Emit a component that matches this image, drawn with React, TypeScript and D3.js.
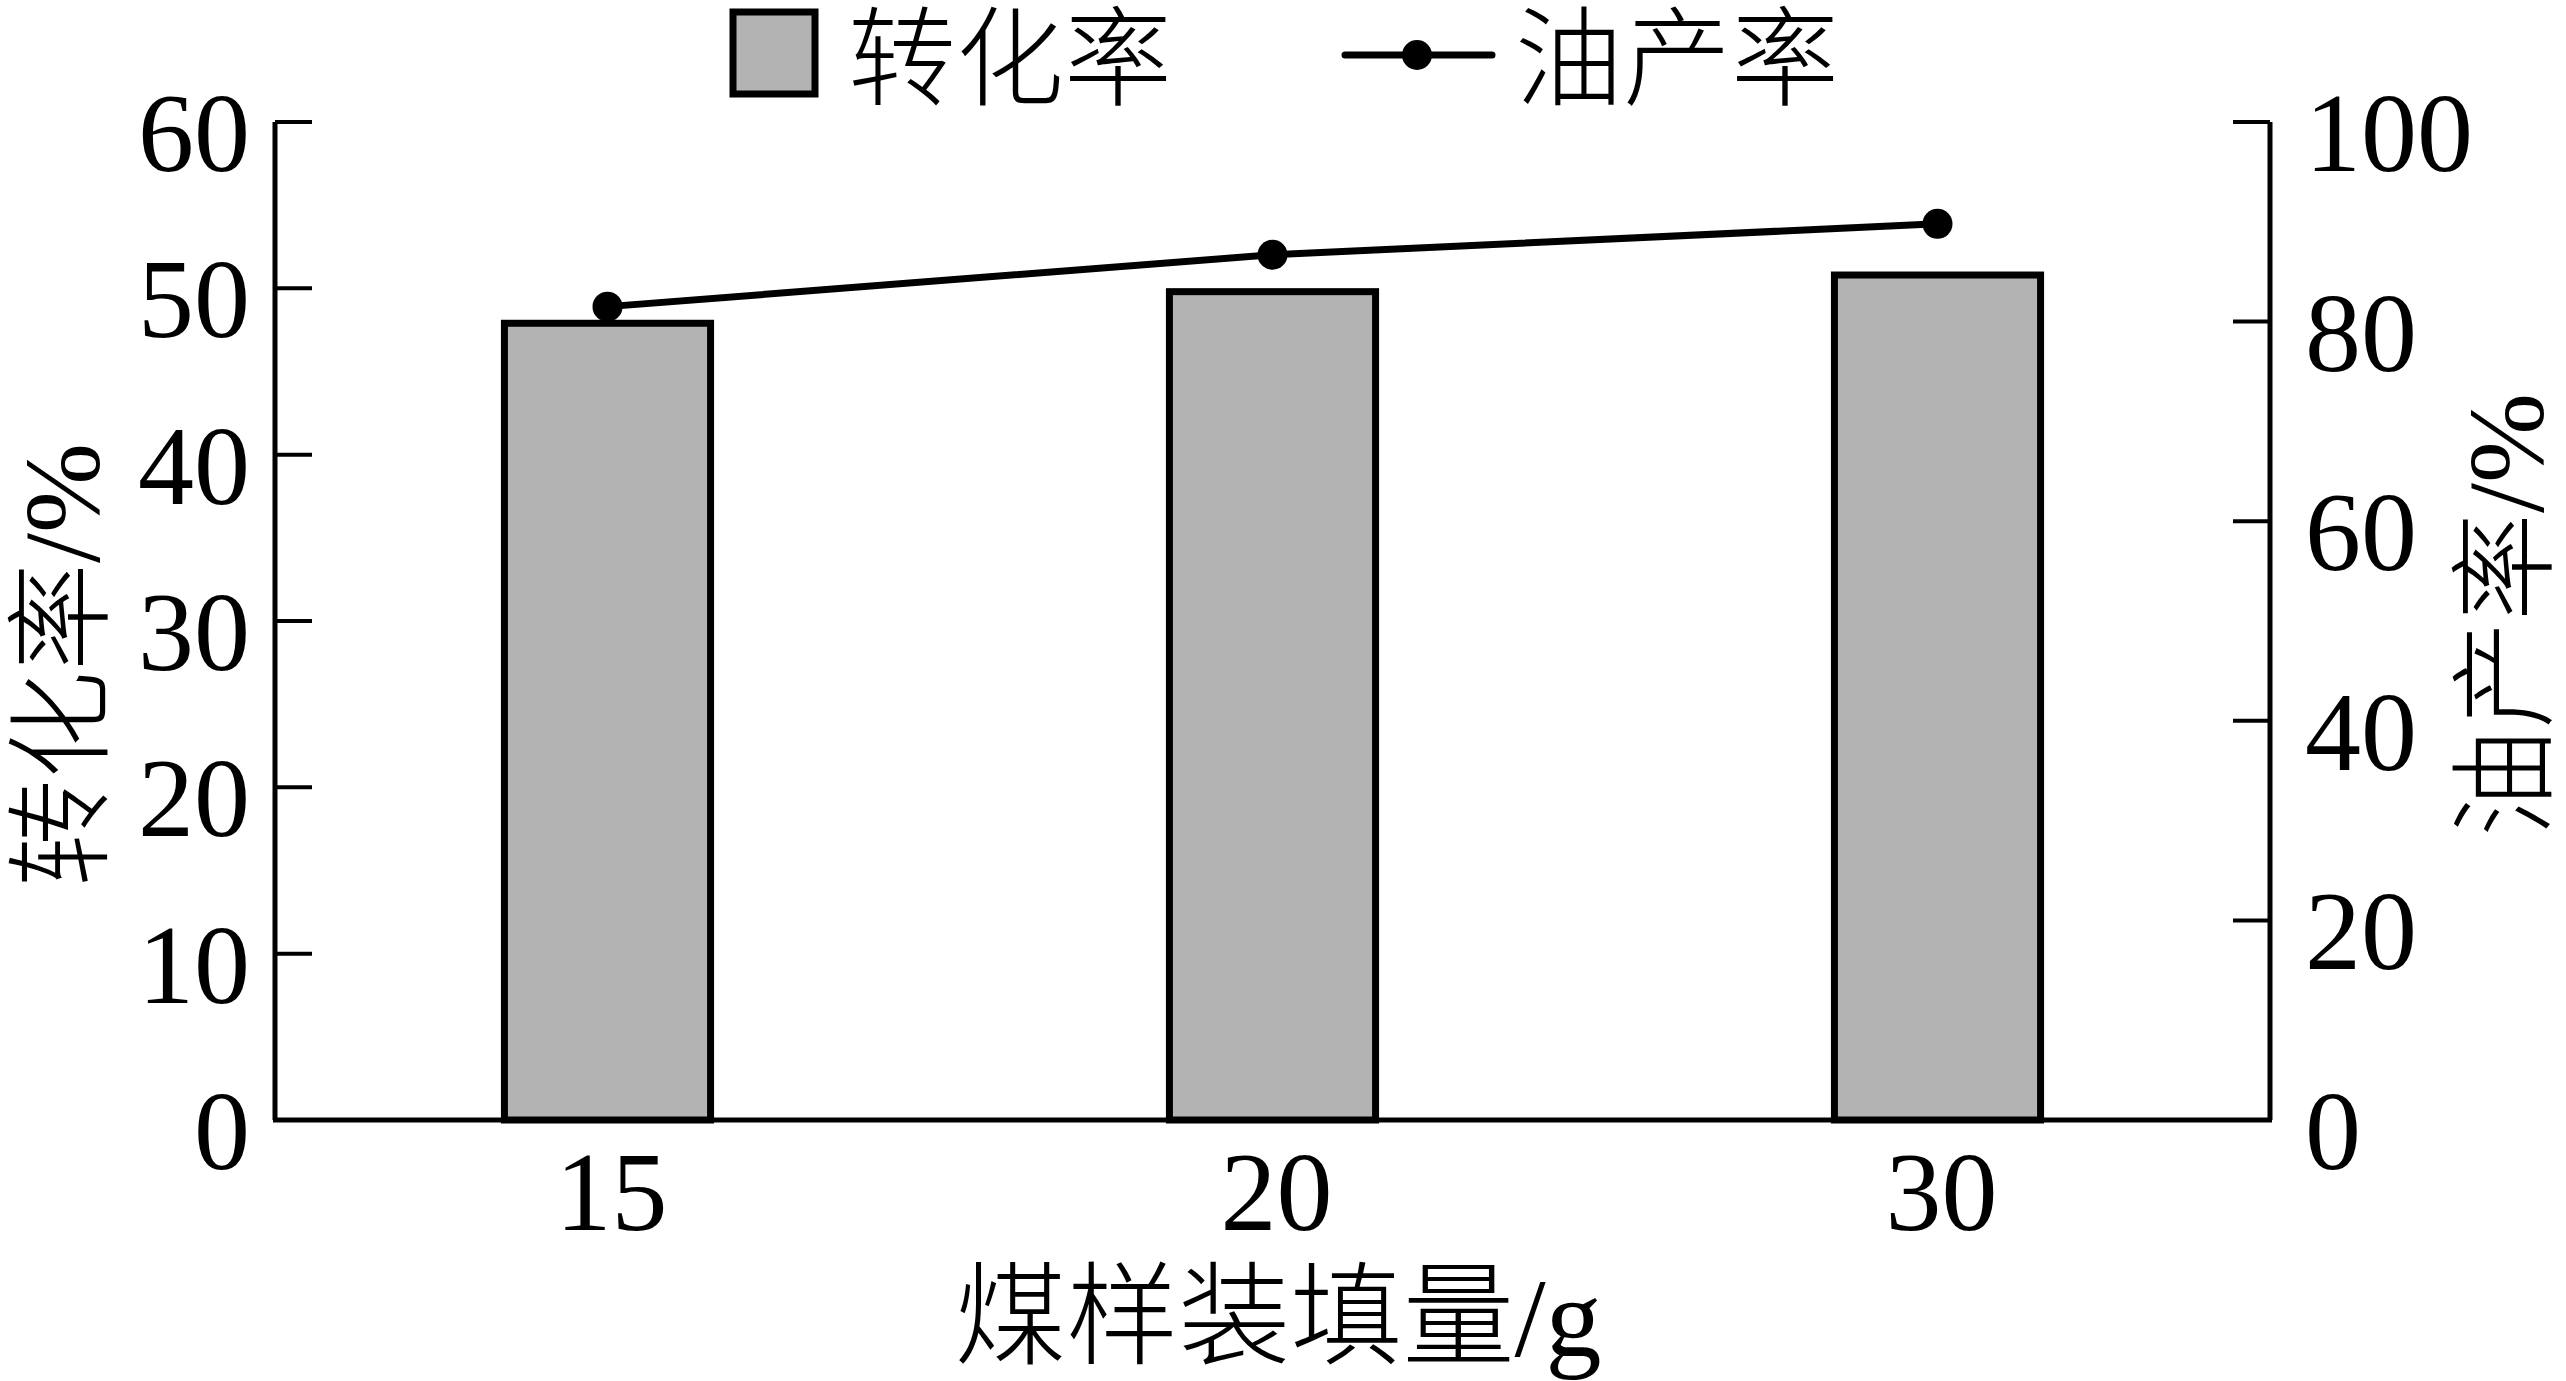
import React from "react";
import * as d3 from "d3";

const categories = ["15", "20", "30"];
const conversion = [47.9, 49.8, 50.8];
const oilYield = [81.5, 86.7, 89.8];
const leftTicks = [0, 10, 20, 30, 40, 50, 60];
const rightTicks = [0, 20, 40, 60, 80, 100];

const W = 2566;
const H = 1381;
const FONT = "'Liberation Serif', 'Times New Roman', 'Noto Sans CJK SC', serif";
const FS = 112;
const FS_T = 108;

export default function App() {
  const x0 = 275;
  const x1 = 2270;
  const yTop = 122;
  const yBot = 1120;

  const xBand = d3.scaleBand<string>().domain(categories).range([x0, x1]).paddingInner(0.69).paddingOuter(0.345);
  const yL = d3.scaleLinear().domain([0, 60]).range([yBot, yTop]);
  const yR = d3.scaleLinear().domain([0, 100]).range([yBot, yTop]);
  const cx = (c: string) => (xBand(c) as number) + xBand.bandwidth() / 2;

  const line = d3
    .line<number>()
    .x((_, i) => cx(categories[i]))
    .y((d) => yR(d));

  const tickLen = 37;

  return (
    <svg
      width={W}
      height={H}
      style={{ position: "absolute", left: 0, top: 0, background: "#fff" }}
      fontFamily={FONT}
    >
      <rect x={0} y={0} width={W} height={H} fill="#fff" />
      {/* bars */}
      {categories.map((c, i) => (
        <rect
          key={c}
          x={xBand(c)}
          y={yL(conversion[i])}
          width={xBand.bandwidth()}
          height={yBot - yL(conversion[i])}
          fill="#b3b3b3"
          stroke="#000"
          strokeWidth={7}
        />
      ))}
      {/* axes */}
      <line x1={x0} y1={yTop} x2={x0} y2={yBot} stroke="#000" strokeWidth={5} />
      <line x1={x1} y1={yTop} x2={x1} y2={yBot} stroke="#000" strokeWidth={5} />
      <line x1={x0 - 2} y1={yBot} x2={x1 + 2} y2={yBot} stroke="#000" strokeWidth={5} />
      {leftTicks.map((t) => (
        <g key={"l" + t}>
          <line x1={x0} x2={x0 + tickLen} y1={yL(t)} y2={yL(t)} stroke="#000" strokeWidth={4} />
          <text x={250} y={yL(t) + 49} textAnchor="end" fontSize={FS} fill="#000">
            {t}
          </text>
        </g>
      ))}
      {rightTicks.map((t) => (
        <g key={"r" + t}>
          <line x1={x1 - tickLen} x2={x1} y1={yR(t)} y2={yR(t)} stroke="#000" strokeWidth={4} />
          <text x={2305} y={yR(t) + 49} textAnchor="start" fontSize={FS} fill="#000">
            {t}
          </text>
        </g>
      ))}
      {/* x tick labels */}
      {categories.map((c) => (
        <text key={"x" + c} x={cx(c) + 4} y={1230} textAnchor="middle" fontSize={FS} fill="#000">
          {c}
        </text>
      ))}
      {/* line series */}
      <path d={line(oilYield) || ""} fill="none" stroke="#000" strokeWidth={7} />
      {oilYield.map((v, i) => (
        <circle key={"p" + i} cx={cx(categories[i])} cy={yR(v)} r={15} fill="#000" />
      ))}
      {/* axis titles */}
      <text x={1278} y={1318} textAnchor="middle" dominantBaseline="central" fontSize={FS} fontWeight={300} fill="#000">
        煤样装填量/g
      </text>
      <text
        transform="translate(62,665) rotate(-90)"
        textAnchor="middle"
        dominantBaseline="central"
        fontSize={FS_T}
        fontWeight={300}
        fill="#000"
      >
        转化率/%
      </text>
      <text
        transform="translate(2506,615) rotate(-90)"
        textAnchor="middle"
        dominantBaseline="central"
        fontSize={FS_T}
        fontWeight={300}
        fill="#000"
      >
        油产率/%
      </text>
      {/* legend */}
      <rect x={733} y={12} width={82} height={82} fill="#b3b3b3" stroke="#000" strokeWidth={7} />
      <text x={848} y={60} dominantBaseline="central" fontSize={FS_T} fontWeight={300} fill="#000">
        转化率
      </text>
      <line x1={1345} x2={1492} y1={55} y2={55} stroke="#000" strokeWidth={7} strokeLinecap="round" />
      <circle cx={1417} cy={55} r={15} fill="#000" />
      <text x={1515} y={60} dominantBaseline="central" fontSize={FS_T} fontWeight={300} fill="#000">
        油产率
      </text>
    </svg>
  );
}
